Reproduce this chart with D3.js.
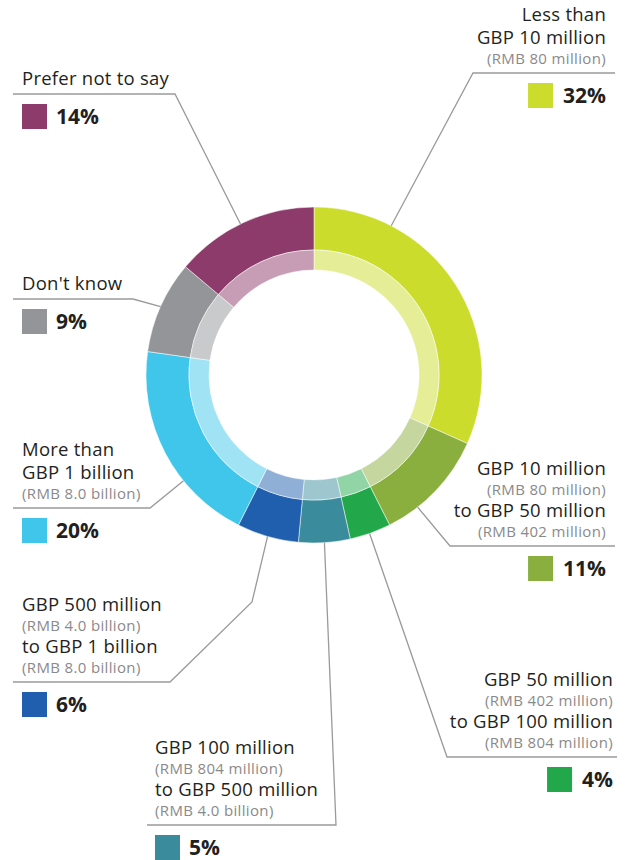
<!DOCTYPE html>
<html>
<head>
<meta charset="utf-8">
<script src="https://cdn.jsdelivr.net/npm/d3@7"></script>
<style>
  html, body { margin: 0; padding: 0; background: #fff; }
  svg { display: block; font-family: "Open Sans", "Noto Sans", sans-serif; }
</style>
</head>
<body>
<svg id="chart" width="626" height="860"></svg>
<script>
// Revenue bands, in clockwise order from 12 o'clock
const categories = [
  "Less than GBP 10 million",
  "GBP 10 million to GBP 50 million",
  "GBP 50 million to GBP 100 million",
  "GBP 100 million to GBP 500 million",
  "GBP 500 million to GBP 1 billion",
  "More than GBP 1 billion",
  "Don't know",
  "Prefer not to say"
];
const shares = [32, 11, 4, 5, 6, 20, 9, 14];
const colours = ["#cbdc2c", "#8aaf3f", "#22a84a", "#3a8c9c", "#1f5fad", "#3fc6ea", "#939598", "#8c3b6a"];

// Label text: [text, isSubLine]
const labelLines = [
  [["Less than", 0], ["GBP 10 million", 0], ["(RMB 80 million)", 1]],
  [["GBP 10 million", 0], ["(RMB 80 million)", 1], ["to GBP 50 million", 0], ["(RMB 402 million)", 1]],
  [["GBP 50 million", 0], ["(RMB 402 million)", 1], ["to GBP 100 million", 0], ["(RMB 804 million)", 1]],
  [["GBP 100 million", 0], ["(RMB 804 million)", 1], ["to GBP 500 million", 0], ["(RMB 4.0 billion)", 1]],
  [["GBP 500 million", 0], ["(RMB 4.0 billion)", 1], ["to GBP 1 billion", 0], ["(RMB 8.0 billion)", 1]],
  [["More than", 0], ["GBP 1 billion", 0], ["(RMB 8.0 billion)", 1]],
  [["Don't know", 0]],
  [["Prefer not to say", 0]]
];

// Callout layout: text anchor, rule height, bend points, and where along the slice the leader attaches
const callouts = [
  { side: "right", x: 606, ruleY: 73,  ruleEnd: 615, bends: [[473, 73]],               along: 0.24 },
  { side: "right", x: 606, ruleY: 546, ruleEnd: 615, bends: [[450, 546]],              along: 0.71 },
  { side: "right", x: 613, ruleY: 757, ruleEnd: 617, bends: [[447, 757]],              along: 0.52 },
  { side: "left",  x: 155, ruleY: 825, ruleEnd: 147, bends: [[336, 825]],              along: 0.5 },
  { side: "left",  x: 22,  ruleY: 682, ruleEnd: 13,  bends: [[252, 602], [170, 682]],  along: 0.5 },
  { side: "left",  x: 22,  ruleY: 508, ruleEnd: 13,  bends: [[150, 508]],              along: 0.34 },
  { side: "left",  x: 22,  ruleY: 299, ruleEnd: 13,  bends: [[133, 299]],              along: 0.5 },
  { side: "left",  x: 22,  ruleY: 94,  ruleEnd: 13,  bends: [[175, 94]],               along: 0.48 }
];

const cx = 314, cy = 375;
const rOuter = 168, rMid = 125, rInner = 105;

const svg = d3.select("#chart");
const g = svg.append("g").attr("transform", `translate(${cx},${cy})`);

const pie = d3.pie().sort(null).value(d => d)(shares);
const outerArc = d3.arc().innerRadius(rMid).outerRadius(rOuter);
const innerArc = d3.arc().innerRadius(rInner).outerRadius(rMid);
const tint = c => d3.interpolateRgb(c, "#ffffff")(0.5);

g.selectAll("path.outer").data(pie).join("path")
  .attr("class", "outer")
  .attr("d", outerArc)
  .attr("fill", (d, i) => colours[i])
  .attr("stroke", "#fff").attr("stroke-width", 0.5);

g.selectAll("path.inner").data(pie).join("path")
  .attr("class", "inner")
  .attr("d", innerArc)
  .attr("fill", (d, i) => tint(colours[i]))
  .attr("stroke", "#fff").attr("stroke-width", 0.5);

// Leader lines
const line = d3.line();
pie.forEach((d, i) => {
  const c = callouts[i];
  const a = d.startAngle + (d.endAngle - d.startAngle) * c.along;
  const p0 = [cx + rOuter * Math.sin(a), cy - rOuter * Math.cos(a)];
  const pts = [p0, ...c.bends, [c.ruleEnd, c.ruleY]];
  svg.append("path")
    .attr("d", line(pts))
    .attr("fill", "none")
    .attr("stroke", "#9a9a9c")
    .attr("stroke-width", 1.3);
});

// Label text blocks
callouts.forEach((c, i) => {
  const lines = labelLines[i];
  const ys = new Array(lines.length);
  ys[lines.length - 1] = c.ruleY - 9.5;
  for (let k = lines.length - 2; k >= 0; k--) {
    const nextSub = lines[k + 1][1];
    const step = nextSub ? 20 : (lines[k][1] ? 22 : 23);
    ys[k] = ys[k + 1] - step;
  }
  const anchor = c.side === "right" ? "end" : "start";
  lines.forEach(([t, sub], k) => {
    svg.append("text")
      .attr("x", c.x).attr("y", ys[k])
      .attr("text-anchor", anchor)
      .attr("font-size", sub ? 15 : 18.5)
      .attr("letter-spacing", sub ? 0.35 : 0.25)
      .attr("fill", sub ? "#8a8a8c" : "#231f20")
      .text(t);
  });

  // Percentage with colour key
  const pct = svg.append("text")
    .attr("y", c.ruleY + 29.5)
    .attr("font-size", 21)
    .attr("font-weight", 700)
    .attr("fill", "#231f20")
    .text(shares[i] + "%");
  let sx;
  if (c.side === "right") {
    pct.attr("x", c.x).attr("text-anchor", "end");
    const w = pct.node().getComputedTextLength();
    sx = c.x - w - 10 - 25;
  } else {
    sx = c.x;
    pct.attr("x", c.x + 34);
  }
  svg.append("rect")
    .attr("x", sx).attr("y", c.ruleY + 10)
    .attr("width", 25).attr("height", 25)
    .attr("fill", colours[i]);
});
</script>
</body>
</html>
